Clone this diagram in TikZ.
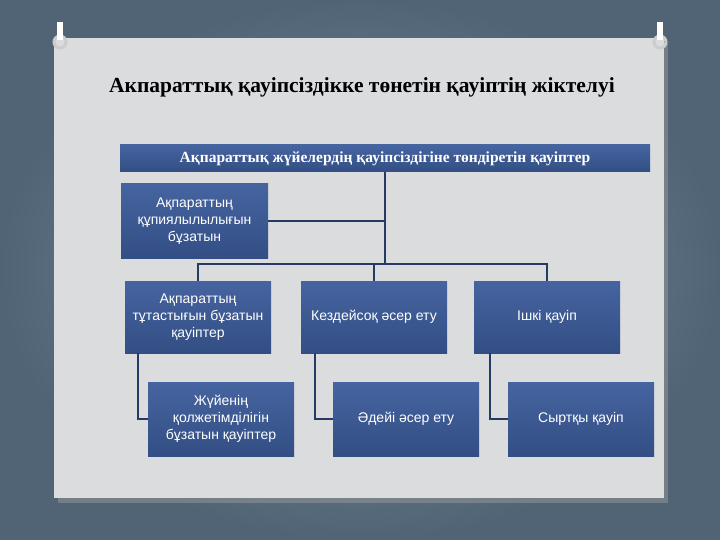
\documentclass[tikz,border=0pt]{standalone}
\usepackage{fontspec}
\setmainfont{Liberation Serif}
\newfontfamily\boxfont{Liberation Sans}
\definecolor{slidebg}{RGB}{80,100,118}
\definecolor{panelgrey}{RGB}{218,220,222}
\definecolor{boxblue}{RGB}{50,78,132}
\definecolor{boxtop}{RGB}{70,100,160}
\definecolor{linkblue}{RGB}{38,58,100}
\tikzset{
  threatbox/.style={draw=none, top color=boxtop, bottom color=boxblue, text=white,
    align=center, font=\boxfont\fontsize{14}{17}\selectfont, inner sep=2pt},
  link/.style={draw=linkblue, line width=1.4pt}
}
\begin{document}
\begin{tikzpicture}[x=1pt,y=-1pt]
\useasboundingbox (0,0) rectangle (720,540);
% background and slide panel
\fill[inner color=slidebg!70!white, outer color=slidebg] (0,0) rectangle (720,540);
\fill[black!40, opacity=0.5] (58,43) rectangle (668,503);
\fill[panelgrey] (54,38) rectangle (664,498);
\foreach \cx in {60,660}{
  \draw[white!80!black, line width=3pt] (\cx,42) circle (6);
  \fill[white] (\cx-3,22) rectangle (\cx+3,40);
}
\node[font=\bfseries\fontsize{21.5}{24}\selectfont] (title) at (362,87) {Акпараттық қауіпсіздікке төнетін қауіптің жіктелуі};
% boxes
\node[threatbox, font=\bfseries\fontsize{15.5}{18}\selectfont, minimum width=530pt, minimum height=27pt] (root) at (385,158.5) {Ақпараттық жүйелердің қауіпсіздігіне төндіретін қауіптер};
\node[threatbox, minimum width=147pt, minimum height=74pt] (secret) at (194.5,221) {Ақпараттың\\құпиялылылығын\\бұзатын};
\node[threatbox, minimum width=146pt, minimum height=72pt] (integ) at (198,317) {Ақпараттың\\тұтастығын бұзатын\\қауіптер};
\node[threatbox, minimum width=146pt, minimum height=72pt] (random) at (374,317) {Кездейсоқ әсер ету};
\node[threatbox, minimum width=146pt, minimum height=72pt] (inner) at (547,317) {Ішкі қауіп};
\node[threatbox, minimum width=146pt, minimum height=74pt] (avail) at (221,419) {Жүйенің\\қолжетімділігін\\бұзатын қауіптер};
\node[threatbox, minimum width=146pt, minimum height=74pt] (intent) at (406,419) {Әдейі әсер ету};
\node[threatbox, minimum width=146pt, minimum height=74pt] (outer) at (581,419) {Сыртқы қауіп};
% connectors
\coordinate (bus) at (385,264);
\draw[link] (root.south) -- (bus);
\draw[link] (secret.east) -- (secret.east -| bus);
\draw[link] (integ.north) |- (bus) -| (inner.north);
\draw[link] (random.north) -- (random.north |- bus);
\draw[link] ([xshift=13pt]integ.south west) |- (avail.west);
\draw[link] ([xshift=14pt]random.south west) |- (intent.west);
\draw[link] ([xshift=16pt]inner.south west) |- (outer.west);
\end{tikzpicture}
\end{document}
